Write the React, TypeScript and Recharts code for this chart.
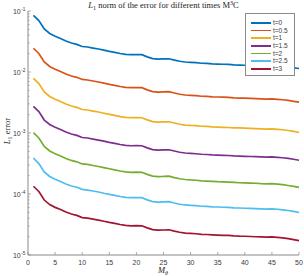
import React from "react";
import { LineChart, Line, XAxis, YAxis } from "recharts";

// M_theta values (x axis)
const ms = [
  1, 2, 3, 4, 5, 6, 7, 8, 9, 10, 11, 12, 13, 14, 15, 16, 17, 18, 19, 20, 21, 22, 23, 24, 25,
  26, 27, 28, 29, 30, 31, 32, 33, 34, 35, 36, 37, 38, 39, 40, 41, 42, 43, 44, 45, 46, 47, 48, 49, 50,
];

// L1 error, one array per time
const errT0 = [
  0.0851, 0.0698, 0.0507, 0.0428, 0.0385, 0.0354, 0.0322, 0.0299, 0.0284, 0.0262, 0.0257, 0.0247, 0.0238,
  0.0228, 0.0218, 0.021, 0.0201, 0.0194, 0.0192, 0.0193, 0.0192, 0.0177, 0.0166, 0.0163, 0.0164, 0.0165,
  0.0157, 0.015, 0.0146, 0.0144, 0.0142, 0.0139, 0.0138, 0.0136, 0.0135, 0.0134, 0.0133, 0.0131, 0.013,
  0.0129, 0.0128, 0.0127, 0.0126, 0.0125, 0.0126, 0.0124, 0.0122, 0.012, 0.0117, 0.0114,
];
const errT05 = [
  0.0245, 0.0201, 0.0146, 0.0123, 0.0111, 0.0102, 0.00927, 0.00861, 0.00818, 0.00755, 0.0074, 0.00711,
  0.00685, 0.00657, 0.00628, 0.00605, 0.00579, 0.00559, 0.00553, 0.00556, 0.00553, 0.0051, 0.00478,
  0.00469, 0.00472, 0.00475, 0.00452, 0.00432, 0.0042, 0.00415, 0.00409, 0.004, 0.00397, 0.00392, 0.00389,
  0.00386, 0.00383, 0.00377, 0.00374, 0.00372, 0.00369, 0.00366, 0.00363, 0.0036, 0.00363, 0.00357,
  0.00351, 0.00342, 0.00331, 0.0032,
];
const errT1 = [
  0.00789, 0.00647, 0.0047, 0.00397, 0.00357, 0.00328, 0.00298, 0.00277, 0.00263, 0.00243, 0.00238,
  0.00229, 0.00221, 0.00211, 0.00202, 0.00195, 0.00186, 0.0018, 0.00178, 0.00179, 0.00178, 0.00164,
  0.00154, 0.00151, 0.00152, 0.00153, 0.00146, 0.00139, 0.00135, 0.00133, 0.00132, 0.00129, 0.00128,
  0.00126, 0.00125, 0.00124, 0.00123, 0.00121, 0.00121, 0.0012, 0.00119, 0.00118, 0.00117, 0.00116,
  0.00117, 0.00115, 0.00113, 0.0011, 0.00106, 0.00102,
];
const errT15 = [
  0.00274, 0.00225, 0.00163, 0.00138, 0.00124, 0.00114, 0.00104, 0.000963, 0.000914, 0.000844, 0.000828,
  0.000795, 0.000766, 0.000734, 0.000702, 0.000676, 0.000647, 0.000625, 0.000618, 0.000621, 0.000618,
  0.00057, 0.000535, 0.000525, 0.000528, 0.000531, 0.000506, 0.000483, 0.00047, 0.000464, 0.000457,
  0.000448, 0.000444, 0.000438, 0.000435, 0.000431, 0.000428, 0.000422, 0.000419, 0.000415, 0.000412,
  0.000409, 0.000406, 0.000403, 0.000406, 0.000399, 0.000393, 0.000384, 0.000371, 0.000358,
];
const errT2 = [
  0.00101, 0.00083, 0.000602, 0.000508, 0.000457, 0.00042, 0.000382, 0.000355, 0.000337, 0.000311,
  0.000305, 0.000293, 0.000282, 0.00027, 0.000259, 0.000249, 0.000238, 0.00023, 0.000227, 0.000229,
  0.000227, 0.00021, 0.000197, 0.000193, 0.000194, 0.000196, 0.000186, 0.000178, 0.000173, 0.00017,
  0.000168, 0.000164, 0.000163, 0.000161, 0.000159, 0.000158, 0.000157, 0.000155, 0.000153, 0.000152,
  0.000151, 0.00015, 0.000148, 0.000147, 0.000148, 0.000145, 0.000142, 0.000138, 0.000133, 0.000128,
];
const errT25 = [
  0.000386, 0.000316, 0.00023, 0.000194, 0.000174, 0.00016, 0.000146, 0.000135, 0.000129, 0.000119,
  0.000116, 0.000112, 0.000108, 0.000103, 0.0000988, 0.0000951, 0.0000911, 0.0000879, 0.000087,
  0.0000874, 0.000087, 0.0000802, 0.0000752, 0.0000738, 0.0000743, 0.0000747, 0.0000711, 0.000068,
  0.0000661, 0.0000652, 0.0000643, 0.000063, 0.0000625, 0.0000616, 0.0000612, 0.0000607, 0.0000602,
  0.0000593, 0.0000589, 0.0000584, 0.000058, 0.0000575, 0.0000571, 0.0000566, 0.0000571, 0.0000562,
  0.0000551, 0.0000537, 0.0000518, 0.0000498,
];
const errT3 = [
  0.000134, 0.00011, 0.0000796, 0.0000672, 0.0000604, 0.0000556, 0.0000506, 0.0000469, 0.0000446,
  0.0000411, 0.0000403, 0.0000388, 0.0000374, 0.0000358, 0.0000342, 0.000033, 0.0000316, 0.0000305,
  0.0000301, 0.0000303, 0.0000301, 0.0000278, 0.0000261, 0.0000256, 0.0000257, 0.0000259, 0.0000246,
  0.0000236, 0.0000229, 0.0000226, 0.0000223, 0.0000218, 0.0000217, 0.0000214, 0.0000212, 0.000021,
  0.0000209, 0.0000206, 0.0000204, 0.0000203, 0.0000201, 0.0000199, 0.0000198, 0.0000196, 0.0000198,
  0.0000195, 0.0000191, 0.0000186, 0.0000179, 0.0000172,
];

const seriesNames = ["t=0", "t=0.5", "t=1", "t=1.5", "t=2", "t=2.5", "t=3"];
const seriesValues = [errT0, errT05, errT1, errT15, errT2, errT25, errT3];
const colors = ["#0072BD", "#D95319", "#EDB120", "#7E2F8E", "#77AC30", "#4DBEEE", "#A2142F"];

const xTicks = [0, 5, 10, 15, 20, 25, 30, 35, 40, 45, 50];
const yTicks = [
  1e-5, 2e-5, 3e-5, 4e-5, 5e-5, 6e-5, 7e-5, 8e-5, 9e-5,
  1e-4, 2e-4, 3e-4, 4e-4, 5e-4, 6e-4, 7e-4, 8e-4, 9e-4,
  1e-3, 2e-3, 3e-3, 4e-3, 5e-3, 6e-3, 7e-3, 8e-3, 9e-3,
  1e-2, 2e-2, 3e-2, 4e-2, 5e-2, 6e-2, 7e-2, 8e-2, 9e-2,
  1e-1,
];

const data = ms.map((m, i) => {
  const row: Record<string, number> = { m };
  seriesNames.forEach((name, k) => {
    row[name] = seriesValues[k][i];
  });
  return row;
});

const axisColor = "#8a8a8a";
const labelColor = "#3a3a3a";
const sans = "'Liberation Sans', Arial, sans-serif";
const serif = "'Liberation Serif', 'Times New Roman', serif";

const isDecade = (v: number) => {
  const l = Math.log10(v);
  return Math.abs(l - Math.round(l)) < 1e-6;
};

const BottomTick = (props: any) => {
  const { x, y, payload } = props;
  return (
    <g>
      <line x1={x} x2={x} y1={y} y2={y - 3} stroke={axisColor} strokeWidth={0.7} />
      <text x={x} y={y + 9.5} textAnchor="middle" fontSize={7} fontFamily={sans} fill={labelColor}>
        {payload.value}
      </text>
    </g>
  );
};

const TopTick = (props: any) => {
  const { x, y } = props;
  return <line x1={x} x2={x} y1={y} y2={y + 3} stroke={axisColor} strokeWidth={0.7} />;
};

const LeftTick = (props: any) => {
  const { x, y, payload } = props;
  const v = payload.value;
  const major = isDecade(v);
  const exp = Math.round(Math.log10(v));
  const expText = exp < 0 ? "-" + Math.abs(exp) : String(exp);
  return (
    <g>
      <line x1={x} x2={x + (major ? 3 : 1.6)} y1={y} y2={y} stroke={axisColor} strokeWidth={0.7} />
      {major && (
        <text x={x - 2.5} y={y + 2.5} textAnchor="end" fontSize={7} fontFamily={sans} fill={labelColor}>
          10
          <tspan dx={0.5} dy={-3} fontSize={4.8}>
            {expText}
          </tspan>
        </text>
      )}
    </g>
  );
};

const RightTick = (props: any) => {
  const { x, y, payload } = props;
  const major = isDecade(payload.value);
  return <line x1={x} x2={x - (major ? 3 : 1.6)} y1={y} y2={y} stroke={axisColor} strokeWidth={0.7} />;
};

const App: React.FC = () => {
  return (
    <div style={{ position: "absolute", left: 0, top: 0, width: 304, height: 276, background: "white" }}>
      <LineChart width={304} height={276} data={data} margin={{ top: 11, right: 5, left: 0, bottom: 0 }}>
        <XAxis
          dataKey="m"
          type="number"
          domain={[0, 50]}
          ticks={xTicks}
          height={21}
          tickSize={0}
          tickMargin={0}
          tickLine={false}
          stroke={axisColor}
          tick={<BottomTick />}
          interval={0}
        />
        <XAxis
          xAxisId="top"
          orientation="top"
          dataKey="m"
          type="number"
          domain={[0, 50]}
          ticks={xTicks}
          height={0}
          tickSize={0}
          tickMargin={0}
          tickLine={false}
          stroke={axisColor}
          tick={<TopTick />}
          interval={0}
        />
        <YAxis
          type="number"
          scale="log"
          domain={[1e-5, 1e-1]}
          allowDataOverflow
          ticks={yTicks}
          width={28}
          tickSize={0}
          tickMargin={0}
          tickLine={false}
          stroke={axisColor}
          tick={<LeftTick />}
          interval={0}
        />
        <YAxis
          yAxisId="right"
          orientation="right"
          type="number"
          scale="log"
          domain={[1e-5, 1e-1]}
          allowDataOverflow
          ticks={yTicks}
          width={0}
          tickSize={0}
          tickMargin={0}
          tickLine={false}
          stroke={axisColor}
          tick={<RightTick />}
          interval={0}
        />
        {seriesNames.map((name, k) => (
          <Line
            key={name}
            dataKey={name}
            stroke={colors[k]}
            strokeWidth={1.7}
            dot={false}
            isAnimationActive={false}
          />
        ))}
      </LineChart>

      {/* title */}
      <div
        style={{
          position: "absolute",
          left: 28,
          top: 0,
          width: 271,
          textAlign: "center",
          fontFamily: serif,
          fontSize: 8.5,
          lineHeight: "10px",
          color: "#222",
          whiteSpace: "nowrap",
        }}
      >
        <i>L</i>
        <span style={{ fontSize: 6, position: "relative", top: 2 }}>1</span> norm of the error for different
        times M<span style={{ fontSize: 6, position: "relative", top: -3 }}>3</span>C
      </div>

      {/* y label */}
      <div
        style={{
          position: "absolute",
          left: 7,
          top: 131,
          transform: "translate(-50%, -50%) rotate(-90deg)",
          fontFamily: serif,
          fontSize: 8.5,
          lineHeight: "10px",
          color: "#222",
          whiteSpace: "nowrap",
        }}
      >
        <i>L</i>
        <span style={{ fontSize: 6, position: "relative", top: 2 }}>1</span> error
      </div>

      {/* x label */}
      <div
        style={{
          position: "absolute",
          left: 163,
          top: 270,
          transform: "translate(-50%, -50%)",
          fontFamily: serif,
          fontSize: 8.5,
          lineHeight: "10px",
          color: "#222",
          whiteSpace: "nowrap",
        }}
      >
        <i>M</i>
        <span style={{ fontSize: 6, position: "relative", top: 2 }}>
          <i>θ</i>
        </span>
      </div>

      {/* legend */}
      <div
        style={{
          position: "absolute",
          left: 245,
          top: 13,
          width: 50,
          height: 63,
          boxSizing: "border-box",
          border: `0.8px solid ${axisColor}`,
          background: "white",
          paddingTop: 5,
        }}
      >
        {seriesNames.map((name, k) => (
          <div key={name} style={{ display: "flex", alignItems: "center", height: 7.7 }}>
            <div style={{ marginLeft: 5, width: 20, height: 1.7, background: colors[k] }} />
            <span
              style={{
                marginLeft: 2,
                fontFamily: sans,
                fontSize: 6.5,
                lineHeight: "7.7px",
                color: labelColor,
              }}
            >
              {name}
            </span>
          </div>
        ))}
      </div>
    </div>
  );
};

export default App;
